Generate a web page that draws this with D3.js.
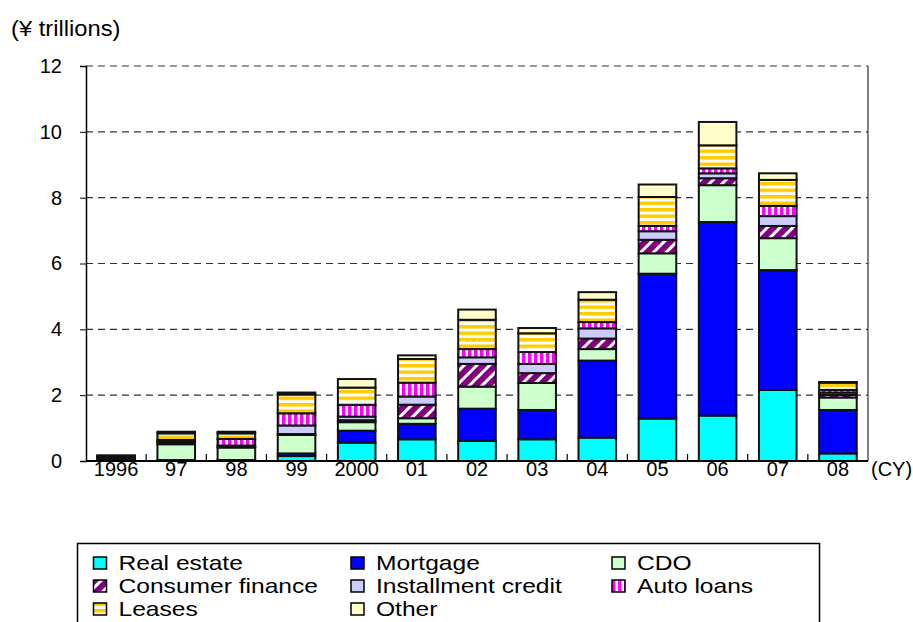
<!DOCTYPE html>
<meta charset="utf-8">

<head>
    <script src="https://d3js.org/d3.v7.min.js"></script>
</head>
<style>
    body {
        font-family: Arial, "Liberation Sans", Helvetica, sans-serif;
        margin: 0;
        background: #fff;
    }
</style>

<body>
    <svg id="chart" width="913" height="622"></svg>
    <script>
        'use strict';

        const years = ["1996", "97", "98", "99", "2000", "01", "02", "03", "04", "05", "06", "07", "08"];
        const realEstate = [0.03, 0.02, 0.02, 0.15, 0.56, 0.66, 0.61, 0.66, 0.71, 1.29, 1.38, 2.16, 0.23];
        const mortgage = [0.05, 0.01, 0.01, 0.08, 0.36, 0.47, 0.98, 0.89, 2.34, 4.40, 5.88, 3.64, 1.32];
        const cdo = [0.03, 0.48, 0.38, 0.56, 0.26, 0.17, 0.67, 0.82, 0.35, 0.62, 1.12, 0.97, 0.38];
        const consumerFinance = [0.02, 0.04, 0.03, 0.03, 0.06, 0.41, 0.69, 0.30, 0.32, 0.41, 0.21, 0.37, 0.08];
        const installment = [0.02, 0.04, 0.03, 0.26, 0.11, 0.25, 0.20, 0.28, 0.31, 0.26, 0.15, 0.30, 0.07];
        const autoLoans = [0.01, 0.05, 0.20, 0.37, 0.35, 0.42, 0.25, 0.36, 0.19, 0.16, 0.15, 0.31, 0.08];
        const leases = [0.01, 0.20, 0.17, 0.57, 0.53, 0.72, 0.89, 0.57, 0.68, 0.88, 0.70, 0.79, 0.22];
        const other = [0.00, 0.05, 0.05, 0.06, 0.26, 0.11, 0.31, 0.16, 0.23, 0.38, 0.71, 0.20, 0.02];
        const yTicks = [0, 2, 4, 6, 8, 10, 12];

        const series = [
            { key: "re", name: "Real estate", values: realEstate, fill: "#00FFFF" },
            { key: "mort", name: "Mortgage", values: mortgage, fill: "#0000FF" },
            { key: "cdo", name: "CDO", values: cdo, fill: "#CCFFCC" },
            { key: "cons", name: "Consumer finance", values: consumerFinance, fill: "url(#pat-cons)" },
            { key: "inst", name: "Installment credit", values: installment, fill: "#CCCCFF" },
            { key: "auto", name: "Auto loans", values: autoLoans, fill: "url(#pat-auto)" },
            { key: "lease", name: "Leases", values: leases, fill: "url(#pat-lease)" },
            { key: "other", name: "Other", values: other, fill: "#FFFFCC" }
        ];

        const svg = d3.select("#chart");
        const plotLeft = 86, plotRight = 868, plotTop = 66, plotBottom = 461;

        // patterns
        const defs = svg.append("defs");
        const pc = defs.append("pattern").attr("id", "pat-cons")
            .attr("patternUnits", "userSpaceOnUse").attr("width", 9).attr("height", 9)
            .attr("patternTransform", "rotate(45)");
        pc.append("rect").attr("width", 9).attr("height", 9).attr("fill", "#800080");
        pc.append("rect").attr("width", 3).attr("height", 9).attr("fill", "#fff");

        const pa = defs.append("pattern").attr("id", "pat-auto")
            .attr("patternUnits", "userSpaceOnUse").attr("width", 6).attr("height", 6);
        pa.append("rect").attr("width", 6).attr("height", 6).attr("fill", "#FF00FF");
        pa.append("rect").attr("x", 3.5).attr("width", 2.5).attr("height", 6).attr("fill", "#fff");

        const pl = defs.append("pattern").attr("id", "pat-lease")
            .attr("patternUnits", "userSpaceOnUse").attr("width", 6).attr("height", 6.5);
        pl.append("rect").attr("width", 6).attr("height", 6.5).attr("fill", "#fff");
        pl.append("rect").attr("width", 6).attr("height", 3.5).attr("fill", "#FFCC00");

        const x = d3.scaleBand().domain(years).range([plotLeft, plotRight])
            .paddingInner(0.375).paddingOuter(0.1875);
        const y = d3.scaleLinear().domain([0, 12]).range([plotBottom, plotTop]);

        // grid lines
        svg.append("g").selectAll("line")
            .data(yTicks.filter(d => d > 0))
            .join("line")
            .attr("x1", plotLeft).attr("x2", plotRight)
            .attr("y1", d => y(d)).attr("y2", d => y(d))
            .attr("stroke", "#333").attr("stroke-width", 1.2)
            .attr("stroke-dasharray", "7,5");

        // right border
        svg.append("line").attr("x1", plotRight).attr("x2", plotRight)
            .attr("y1", plotTop).attr("y2", plotBottom)
            .attr("stroke", "#333").attr("stroke-width", 1.2);

        // stacked bars
        const table = years.map((yr, i) => {
            const row = { year: yr };
            series.forEach(s => row[s.key] = s.values[i]);
            return row;
        });
        const stacked = d3.stack().keys(series.map(s => s.key))(table);

        svg.append("g").selectAll("g")
            .data(stacked)
            .join("g")
            .attr("fill", (d, i) => series[i].fill)
            .selectAll("rect")
            .data(d => d)
            .join("rect")
            .attr("x", d => x(d.data.year))
            .attr("width", x.bandwidth())
            .attr("y", d => y(d[1]))
            .attr("height", d => y(d[0]) - y(d[1]))
            .attr("stroke", "#111").attr("stroke-width", 2);

        // y axis
        const yAxis = svg.append("g").attr("transform", `translate(${plotLeft},0)`)
            .call(d3.axisLeft(y).tickValues(yTicks).tickSize(6).tickPadding(18).tickFormat(d3.format("d")));
        yAxis.select(".domain").attr("stroke", "#000").attr("stroke-width", 1.5);
        yAxis.selectAll(".tick line").attr("stroke", "#000");
        yAxis.selectAll("text").attr("font-size", 20).attr("font-family", "Arial, 'Liberation Sans', sans-serif").attr("fill", "#000");

        // x axis
        const xAxis = svg.append("g").attr("transform", `translate(0,${plotBottom})`)
            .call(d3.axisBottom(x).tickSize(0).tickPadding(1));
        xAxis.select(".domain").attr("stroke", "#000").attr("stroke-width", 2)
            .attr("d", `M${plotLeft},0H${plotRight}`);
        xAxis.selectAll("text").attr("font-size", 20).attr("font-family", "Arial, 'Liberation Sans', sans-serif").attr("fill", "#000");

        // category separator ticks
        const gap = x.step() - x.bandwidth();
        svg.append("g").selectAll("line")
            .data(years.slice(1))
            .join("line")
            .attr("x1", d => x(d) - gap / 2).attr("x2", d => x(d) - gap / 2)
            .attr("y1", plotBottom).attr("y2", plotBottom - 7)
            .attr("stroke", "#000").attr("stroke-width", 1.2);

        svg.append("text").attr("x", 871).attr("y", 476)
            .attr("font-size", 20).text("(CY)");
        svg.append("text").attr("transform", "translate(11,36) scale(1.08,1)")
            .attr("font-size", 22).text("(¥ trillions)");

        // legend
        const legend = svg.append("g");
        legend.append("rect").attr("x", 77.5).attr("y", 543.5)
            .attr("width", 742).attr("height", 100)
            .attr("fill", "none").attr("stroke", "#000").attr("stroke-width", 1.5);
        const colX = [93.5, 351, 612];
        const rowY = [563, 586, 609];
        const item = legend.selectAll("g.item")
            .data(series)
            .join("g").attr("class", "item")
            .attr("transform", (d, i) => `translate(${colX[i % 3]},${rowY[Math.floor(i / 3)]})`);
        item.append("rect").attr("x", 0).attr("y", -6).attr("width", 13).attr("height", 12)
            .attr("fill", d => d.fill).attr("stroke", "#000").attr("stroke-width", 1.5);
        item.append("text").attr("transform", "translate(25,0) scale(1.2,1)")
            .attr("dy", "0.36em")
            .attr("font-size", 20.5).text(d => d.name);
    </script>
</body>
